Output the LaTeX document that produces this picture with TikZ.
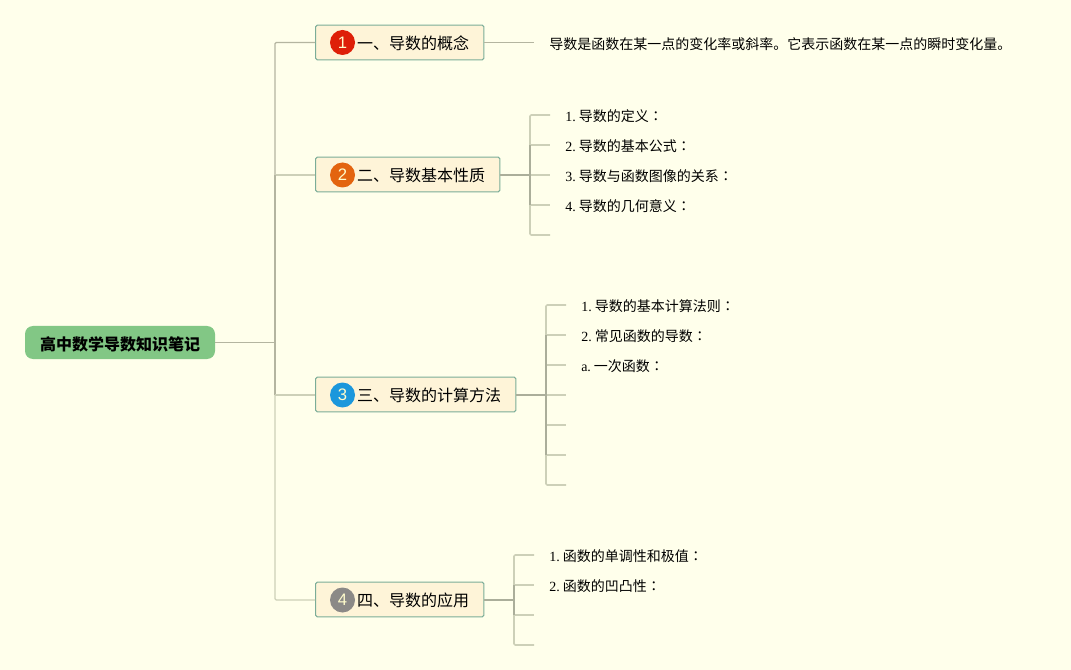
\documentclass[tikz,border=0pt]{standalone}
\usepackage{fontspec}
\setmainfont{Liberation Serif}
\newfontfamily\cjk{Noto Sans CJK SC}
\newfontfamily\cjkc{Noto Sans CJK TC}
\newfontfamily\icofont{Liberation Sans}
\definecolor{bgc}{HTML}{FFFFEB}
\definecolor{boxfill}{HTML}{FEF4D8}
\definecolor{boxline}{HTML}{7BAD98}
\definecolor{rootfill}{HTML}{82C785}
\definecolor{conn}{HTML}{B4B5A0}
\definecolor{connl}{HTML}{CDD0B8}
\definecolor{connd}{HTML}{ABAE9A}
\definecolor{redi}{HTML}{DE1F08}
\definecolor{orai}{HTML}{E3640F}
\definecolor{blui}{HTML}{1B97DC}
\definecolor{grai}{HTML}{8B8987}
\tikzset{
  topicbox/.style={draw=boxline,fill=boxfill,line width=0.85pt,rounded corners=1.2pt,anchor=west,inner xsep=11pt,inner ysep=0pt,minimum height=26pt,text height=12.5pt,text depth=1.8pt,font=\fontsize{12pt}{14pt}\cjk,text=black},
  rootbox/.style={fill=rootfill,rounded corners=6pt,anchor=center,inner sep=0pt,minimum width=142.5pt,minimum height=24.75pt,text height=13.2pt,text depth=1.8pt,font=\fontsize{12pt}{14pt}\cjk\bfseries,text=black},
  leaf/.style={anchor=west,inner xsep=11.25pt,inner ysep=0pt,text height=11.5pt,text depth=2pt,font=\fontsize{10.5pt}{12pt}\cjk,text=black},
  icon/.style={circle,inner sep=0pt,minimum size=18.75pt,font=\fontsize{12.5pt}{14pt}\icofont,text=white!80!yellow},
  trunk/.style={draw=conn,line width=0.9pt},
  bus/.style={draw=connd,line width=1.1pt},
  twig/.style={draw=connl,line width=1.2pt},
  stem/.style={draw=connd,line width=1.4pt}
}
\newcommand{\nm}[1]{{\rmfamily #1}\,\hspace{0.5pt}}
\newcommand{\clon}{{\cjkc ：}}
\begin{document}
\begin{tikzpicture}[x=0.75pt,y=-0.75pt]
\path[fill=bgc,use as bounding box] (0,0) rectangle (1071,670);

% nodes
\node[rootbox] (root) at (120,342.5) {高中数学导数知识笔记};
\node[topicbox] (t1) at (315,42.5) {\hspace*{20.25pt}一、导数的概念};
\node[topicbox] (t2) at (315,174.5) {\hspace*{20.25pt}二、导数基本性质};
\node[topicbox] (t3) at (315,394.5) {\hspace*{20.25pt}三、导数的计算方法};
\node[topicbox] (t4) at (315,599.5) {\hspace*{20.25pt}四、导数的应用};
\node[icon,fill=redi] (i1) at (342.5,42.5) {1};
\node[icon,fill=orai] (i2) at (342.5,175) {2};
\node[icon,fill=blui] (i3) at (342.5,395) {3};
\node[icon,fill=grai] (i4) at (342.5,600) {4};

\node[leaf,text height=13pt] (a1) at (534,42.5) {导数是函数在某一点的变化率或斜率。它表示函数在某一点的瞬时变化量。};

\node[leaf] (b1) at (550,115) {\nm{1.}导数的定义\clon};
\node[leaf] (b2) at (550,145) {\nm{2.}导数的基本公式\clon};
\node[leaf] (b3) at (550,175) {\nm{3.}导数与函数图像的关系\clon};
\node[leaf] (b4) at (550,205) {\nm{4.}导数的几何意义\clon};
\coordinate (b5) at (550,235);

\node[leaf] (c1) at (566,305) {\nm{1.}导数的基本计算法则\clon};
\node[leaf] (c2) at (566,335) {\nm{2.}常见函数的导数\clon};
\node[leaf] (c3) at (566,365) {\nm{a.}一次函数\clon};
\coordinate (c4) at (566,395);
\coordinate (c5) at (566,425);
\coordinate (c6) at (566,455);
\coordinate (c7) at (566,485);

\node[leaf] (d1) at (534,555) {\nm{1.}函数的单调性和极值\clon};
\node[leaf] (d2) at (534,585) {\nm{2.}函数的凹凸性\clon};
\coordinate (d3) at (534,615);
\coordinate (d4) at (534,645);

% junctions
\coordinate (jr) at (275,342.5);
\coordinate (j2) at (530,175);
\coordinate (j3) at (546,395);
\coordinate (j4) at (514,600);

% root to topics
\draw[trunk] (root.east) -- (jr);
\draw[trunk,rounded corners=1pt] (jr) |- (t1.west);
\draw[trunk,draw=connl] (jr |- j2) -- (t2.west |- j2);
\draw[trunk] (jr) -- (jr |- j2);
\draw[trunk,draw=connl,rounded corners=1pt] (jr) |- (t4.west |- j4);
\draw[trunk] (jr) -- (jr |- j3);
\draw[trunk,draw=connl] (jr |- j3) -- (t3.west |- j3);

% topic 1
\draw[trunk] (t1.east) -- (a1.west);

% topic 2
\draw[stem] (t2.east |- j2) -- (j2);
\draw[twig,rounded corners=1pt] (j2) |- (b1.west);
\draw[twig] (j2 |- b2.west) -- (b2.west);
\draw[twig] (j2) -- (b3.west);
\draw[twig] (j2 |- b4.west) -- (b4.west);
\draw[twig,rounded corners=1pt] (j2) |- (b5);
\draw[bus] (j2) -- (j2 |- b2.west);
\draw[bus] (j2) -- (j2 |- b4.west);

% topic 3
\draw[stem] (t3.east |- j3) -- (j3);
\draw[twig,rounded corners=1pt] (j3) |- (c1.west);
\draw[twig] (j3 |- c2.west) -- (c2.west);
\draw[twig] (j3 |- c3.west) -- (c3.west);
\draw[twig] (j3) -- (c4);
\draw[twig] (j3 |- c5) -- (c5);
\draw[twig] (j3 |- c6) -- (c6);
\draw[twig,rounded corners=1pt] (j3) |- (c7);
\draw[bus] (j3) -- (j3 |- c2.west);
\draw[bus] (j3) -- (j3 |- c6);

% topic 4
\draw[stem] (t4.east |- j4) -- (j4);
\draw[twig,rounded corners=1pt] (j4) |- (d1.west);
\draw[twig] (j4 |- d2.west) -- (d2.west);
\draw[twig] (j4 |- d3) -- (d3);
\draw[twig,rounded corners=1pt] (j4) |- (d4);
\draw[bus] (j4) -- (j4 |- d2.west);
\draw[bus] (j4) -- (j4 |- d3);
\end{tikzpicture}
\end{document}
